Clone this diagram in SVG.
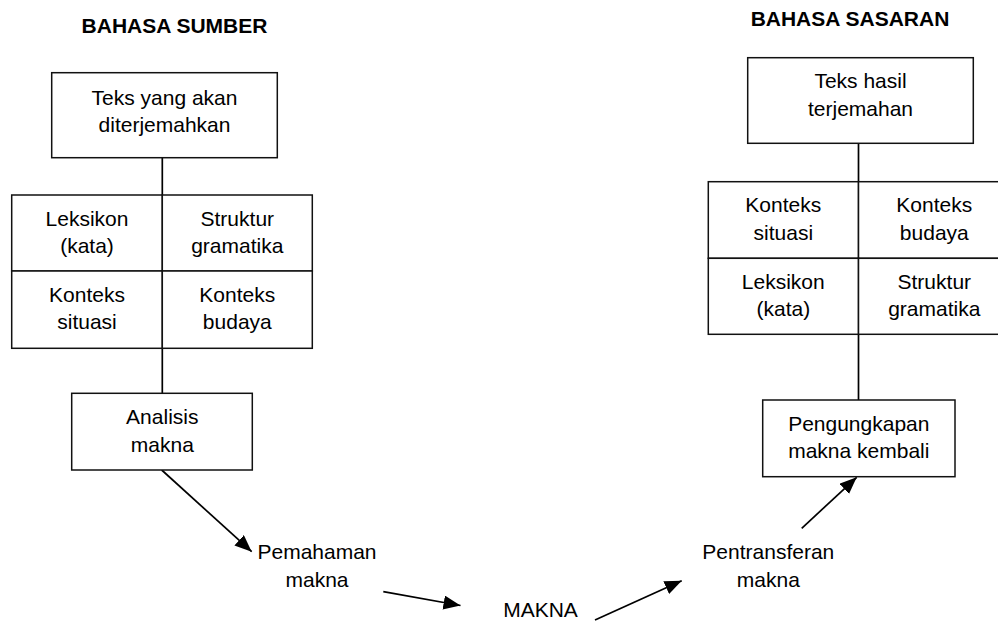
<svg xmlns="http://www.w3.org/2000/svg" width="998" height="622" viewBox="0 0 998 622">
<defs>
<style>
.box{fill:#fff;stroke:#111;stroke-width:1.5}
.t{font-family:"Liberation Sans",Arial,sans-serif;font-size:21px;fill:#000;text-anchor:middle}
.h{font-family:"Liberation Sans",Arial,sans-serif;font-size:21px;font-weight:bold;fill:#000;text-anchor:middle}
.c{stroke:#000;stroke-width:1.7;fill:none}
</style>
<marker id="ah" markerUnits="userSpaceOnUse" markerWidth="20" markerHeight="16" refX="17" refY="7" orient="auto">
<path d="M0,0 L17,7 L0,14 Z" fill="#000"/>
</marker>
</defs>
<rect width="998" height="622" fill="#fff"/>
<text class="h" x="174.5" y="33.3">BAHASA SUMBER</text>
<text class="h" x="850" y="25.7">BAHASA SASARAN</text>

<g id="connectors">
<line class="c" x1="162.3" y1="157.7" x2="162.3" y2="393.3"/>
<line class="c" x1="858.5" y1="143.3" x2="858.5" y2="400"/>
<line class="c" x1="161.7" y1="470" x2="251.7" y2="551.7" marker-end="url(#ah)"/>
<line class="c" x1="383.3" y1="591.7" x2="460.5" y2="605.5" marker-end="url(#ah)"/>
<line class="c" x1="595" y1="620" x2="681.7" y2="580.7" marker-end="url(#ah)"/>
<line class="c" x1="801.7" y1="528.3" x2="856.7" y2="477.3" marker-end="url(#ah)"/>
</g>

<g id="teks-sumber">
<rect class="box" x="51.7" y="72.7" width="225.6" height="85"/>
<text class="t" x="164.5" y="105">Teks yang akan</text>
<text class="t" x="164.5" y="132.3">diterjemahkan</text>
</g>
<g id="leksikon-sumber">
<rect class="box" x="11.7" y="195" width="150.6" height="76"/>
<text class="t" x="87" y="225.5">Leksikon</text>
<text class="t" x="87" y="252.5">(kata)</text>
</g>
<g id="struktur-sumber">
<rect class="box" x="162.3" y="195" width="150" height="76"/>
<text class="t" x="237.3" y="225.5">Struktur</text>
<text class="t" x="237.3" y="252.5">gramatika</text>
</g>
<g id="situasi-sumber">
<rect class="box" x="11.7" y="271" width="150.6" height="77.3"/>
<text class="t" x="87" y="302">Konteks</text>
<text class="t" x="87" y="329">situasi</text>
</g>
<g id="budaya-sumber">
<rect class="box" x="162.3" y="271" width="150" height="77.3"/>
<text class="t" x="237.3" y="302">Konteks</text>
<text class="t" x="237.3" y="329">budaya</text>
</g>
<g id="analisis">
<rect class="box" x="71.7" y="393.3" width="180.6" height="76.7"/>
<text class="t" x="162.3" y="424">Analisis</text>
<text class="t" x="162.3" y="451.7">makna</text>
</g>
<g id="pemahaman">
<text class="t" x="317" y="559.3">Pemahaman</text>
<text class="t" x="317" y="586.7">makna</text>
</g>
<g id="makna">
<text class="t" x="540.5" y="617">MAKNA</text>
</g>
<g id="pentransferan">
<text class="t" x="768.3" y="559.3">Pentransferan</text>
<text class="t" x="768.3" y="586.7">makna</text>
</g>
<g id="pengungkapan">
<rect class="box" x="762.7" y="400" width="192.3" height="76.7"/>
<text class="t" x="858.8" y="431">Pengungkapan</text>
<text class="t" x="858.8" y="458.3">makna kembali</text>
</g>
<g id="teks-sasaran">
<rect class="box" x="747.7" y="57.7" width="225.6" height="85.6"/>
<text class="t" x="860.5" y="88.3">Teks hasil</text>
<text class="t" x="860.5" y="115.5">terjemahan</text>
</g>
<g id="situasi-sasaran">
<rect class="box" x="708.3" y="181.7" width="150.2" height="76.6"/>
<text class="t" x="783.3" y="212.3">Konteks</text>
<text class="t" x="783.3" y="240">situasi</text>
</g>
<g id="budaya-sasaran">
<rect class="box" x="858.5" y="181.7" width="150" height="76.6"/>
<text class="t" x="934.3" y="212.3">Konteks</text>
<text class="t" x="934.3" y="240">budaya</text>
</g>
<g id="leksikon-sasaran">
<rect class="box" x="708.3" y="258.3" width="150.2" height="76"/>
<text class="t" x="783.3" y="289.3">Leksikon</text>
<text class="t" x="783.3" y="316.3">(kata)</text>
</g>
<g id="struktur-sasaran">
<rect class="box" x="858.5" y="258.3" width="150" height="76"/>
<text class="t" x="934.3" y="289.3">Struktur</text>
<text class="t" x="934.3" y="316.3">gramatika</text>
</g>
</svg>
